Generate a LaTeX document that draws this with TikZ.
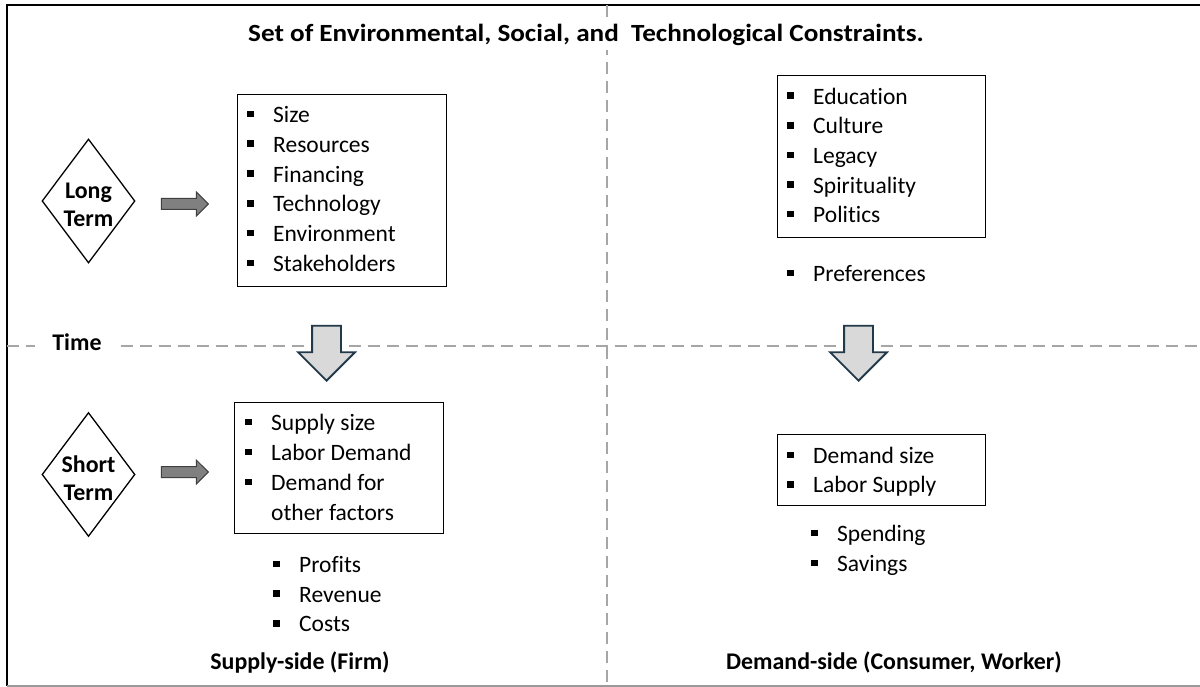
\documentclass[tikz,border=0pt]{standalone}
\usepackage{fontspec}
\setmainfont{Carlito}[Ligatures=NoCommon]
\newfontfamily\titlefont{Carlito}[Ligatures=NoCommon,FakeStretch=1.1]
\usetikzlibrary{shapes.geometric,shapes.arrows}
\definecolor{divgray}{HTML}{A6A6A6}
\definecolor{edgegray}{HTML}{999999}
\definecolor{arrowfill}{HTML}{D9D9D9}
\definecolor{arrowedge}{HTML}{22394A}
\definecolor{sidefill}{HTML}{808080}
\definecolor{sideedge}{HTML}{404040}
\newcommand\sqbul{\rule[5.3pt]{6.5pt}{6.5pt}}
% one bulleted line: name, bullet x, baseline y, text
\newcommand\bitem[4]{\node[txt] (#1) at (#2,#3) {\makebox[26pt][l]{\sqbul}#4};}
\begin{document}
\begin{tikzpicture}[x=1pt,y=-1pt,
  txt/.style={anchor=base west, inner sep=0pt, font=\fontsize{23.5}{30}\selectfont},
  head/.style={inner sep=0pt, font=\bfseries\fontsize{23.9}{28}\selectfont},
  listbox/.style={draw=black, line width=1.3pt, inner sep=0pt, anchor=north west},
  divider/.style={draw=divgray, line width=1.5pt, dash pattern=on 12pt off 7pt},
  term/.style={diamond, draw=black, line width=1.3pt, minimum width=93pt, minimum height=124pt, inner sep=0pt},
  sidearrow/.style={single arrow, draw=sideedge, fill=sidefill, line width=1pt, inner sep=5pt, minimum height=47pt, single arrow head extend=6.5pt, anchor=tip},
  downarrow/.style={single arrow, shape border rotate=270, draw=arrowedge, fill=arrowfill, line width=1.8pt, inner sep=13.5pt, minimum height=55pt, single arrow head extend=14pt, anchor=tip}
]
\useasboundingbox (0,0) rectangle (1200,687);

% frame: black top and left, grey bottom
\draw[line width=2pt] (1200,5) -- (6.5,5) -- (6.5,686);
\draw[edgegray, line width=1.5pt] (6.5,686) -- (1200,686);

% dividers between the quadrants
\draw[divider] (607,5) -- (607,686);
\draw[divider] (6.5,346) -- (1200,346);

% headings
\node[inner xsep=6pt, inner ysep=4pt, fill=white, anchor=base, font=\titlefont\bfseries\fontsize{24.7}{28}\selectfont] (title) at (586,41.7) {Set of Environmental, Social, and\ \ Technological Constraints.};
\node[head, fill=white, inner xsep=17pt, inner ysep=3pt, anchor=base] (time) at (77,350) {Time};
\node[head, anchor=base] (supply) at (300,669.3) {Supply-side (Firm)};
\node[head, anchor=base] (demand) at (894,669.3) {Demand-side (Consumer, Worker)};

% time horizons
\node[term] (longterm) at (88.5,201) {};
\node[head, align=center] at ([yshift=-4pt]longterm.center) {Long\\Term};
\node[term] (shortterm) at (88.5,474.5) {};
\node[head, align=center] at ([yshift=-4pt]shortterm.center) {Short\\Term};

% firm, long term
\node[listbox, minimum width=209pt, minimum height=192pt] (firmlong) at (237,94) {};
\bitem{fl1}{247}{122.5}{Size}
\bitem{fl2}{247}{152.3}{Resources}
\bitem{fl3}{247}{182.1}{Financing}
\bitem{fl4}{247}{211.9}{Technology}
\bitem{fl5}{247}{241.7}{Environment}
\bitem{fl6}{247}{271.5}{Stakeholders}

% household, long term
\node[listbox, minimum width=208pt, minimum height=162pt] (hhlong) at (777,75) {};
\bitem{hl1}{787}{104.3}{Education}
\bitem{hl2}{787}{133.9}{Culture}
\bitem{hl3}{787}{163.5}{Legacy}
\bitem{hl4}{787}{193.1}{Spirituality}
\bitem{hl5}{787}{222.7}{Politics}
\bitem{hl6}{787}{281.7}{Preferences}

% firm, short term
\node[listbox, minimum width=209pt, minimum height=131pt] (firmshort) at (234,402) {};
\bitem{fs1}{245}{430.7}{Supply size}
\bitem{fs2}{245}{460.5}{Labor Demand}
\bitem{fs3}{245}{490.3}{Demand for}
\node[txt] (fs4) at (271,520.1) {other factors};
\bitem{fs5}{273}{572.3}{Profits}
\bitem{fs6}{273}{602.1}{Revenue}
\bitem{fs7}{273}{631.9}{Costs}

% household, short term
\node[listbox, minimum width=208pt, minimum height=71pt] (hhshort) at (777,434) {};
\bitem{hs1}{787}{463.3}{Demand size}
\bitem{hs2}{787}{492.9}{Labor Supply}
\bitem{hs3}{811}{541.7}{Spending}
\bitem{hs4}{811}{571.3}{Savings}

% horizon arrows
\node[sidearrow] (ltarrow) at (209,204) {};
\node[sidearrow] (starrow) at (209,472) {};

% from long term to short term
\node[downarrow] (firmdown) at (326.5,382) {};
\node[downarrow] (hhdown) at (858.5,382) {};
\end{tikzpicture}
\end{document}
